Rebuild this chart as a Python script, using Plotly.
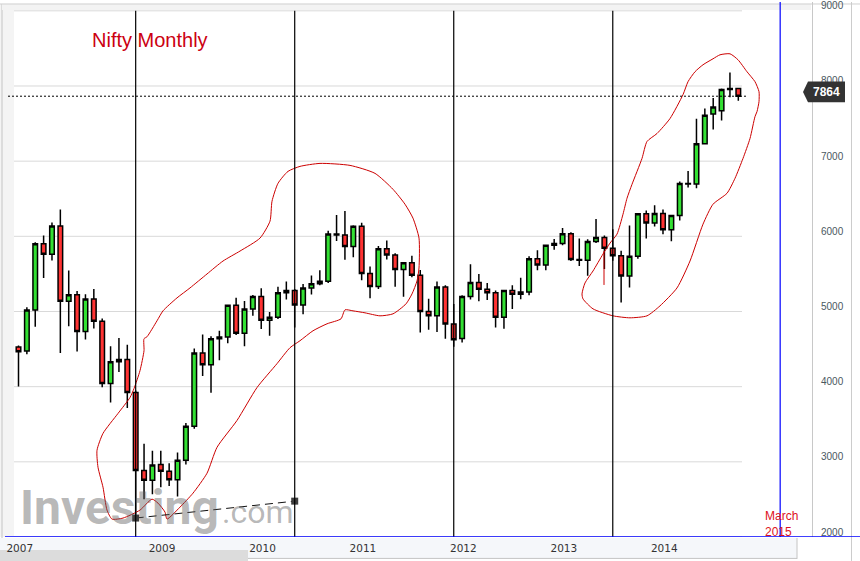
import plotly.graph_objects as go
import pandas as pd

# ---------------- data ----------------
months = pd.date_range("2007-08-01", periods=87, freq="MS").strftime("%b %Y").tolist()

opens = [4528, 4475, 5021, 5901, 5762, 6136, 5137, 5223, 4735, 5166, 4870, 4041, 4333, 4360,
         3921, 2885, 2755, 2963, 2874, 2763, 3021, 3474, 4449, 4291, 4636, 4662, 5084, 4712,
         5033, 5201, 4882, 4922, 5249, 5278, 5087, 5313, 5368, 5402, 6030, 6018, 5863, 6135,
         5506, 5333, 5834, 5750, 5560, 5647, 5482, 5001, 4943, 5327, 4832, 4640, 5199, 5385,
         5296, 5248, 4924, 5279, 5229, 5259, 5703, 5620, 5880, 5905, 6035, 5693, 5683, 5930,
         5986, 5842, 5742, 5471, 5735, 6299, 6176, 6304, 6089, 6277, 6704, 6696, 7230, 7627,
         7669, 7954, 7965]
highs = [4549, 5055, 5922, 6012, 6185, 6357, 5545, 5272, 5230, 5298, 4908, 4539, 4649, 4558,
         3950, 3240, 3147, 3147, 2981, 3123, 3517, 4509, 4693, 4669, 4743, 5087, 5182, 5138,
         5221, 5310, 4992, 5329, 5400, 5300, 5366, 5478, 5549, 6073, 6284, 6338, 6147, 6181,
         5599, 5872, 5944, 5775, 5657, 5740, 5551, 5169, 5399, 5350, 5099, 5217, 5630, 5499,
         5379, 5279, 5286, 5348, 5449, 5735, 5815, 5885, 5965, 6111, 6053, 5971, 5962, 6230,
         6011, 6093, 5808, 6143, 6309, 6342, 6415, 6358, 6282, 6730, 6870, 7563, 7700, 7841,
         7968, 8180, 7975]
lows = [4002, 4432, 4798, 5447, 5677, 4448, 4803, 4468, 4628, 4774, 3991, 3790, 4194, 3715,
        2252, 2502, 2570, 2661, 2678, 2539, 2966, 3440, 4143, 3919, 4353, 4576, 4687, 4539,
        4944, 4766, 4676, 4900, 5160, 4786, 4962, 5225, 5348, 5380, 5937, 5690, 5721, 5416,
        5177, 5300, 5693, 5328, 5195, 5454, 4720, 4758, 4728, 4639, 4531, 4588, 5160, 5135,
        5154, 4788, 4770, 5032, 5164, 5215, 5548, 5549, 5823, 5880, 5671, 5604, 5477, 5910,
        5566, 5676, 5119, 5318, 5701, 5972, 6130, 6027, 5933, 6212, 6650, 6638, 7225, 7422,
        7540, 7850, 7805]
closes = [4464, 5021, 5901, 5762, 6139, 5137, 5224, 4735, 5166, 4870, 4041, 4333, 4360, 3921,
          2885, 2755, 2959, 2874, 2763, 3021, 3474, 4449, 4291, 4636, 4662, 5084, 4712, 5033,
          5201, 4882, 4922, 5249, 5278, 5087, 5313, 5368, 5402, 6030, 6018, 5863, 6135, 5506,
          5333, 5834, 5750, 5560, 5647, 5482, 5001, 4943, 5327, 4832, 4624, 5199, 5385, 5296,
          5248, 4924, 5279, 5229, 5259, 5703, 5620, 5880, 5905, 6035, 5693, 5683, 5930, 5986,
          5842, 5742, 5471, 5735, 6299, 6176, 6304, 6089, 6277, 6704, 6696, 7230, 7611, 7721,
          7954, 7965, 7864]

year_labels = ["2007", "2009", "2010", "2011", "2012", "2013", "2014"]
price_ticks = [2000, 3000, 4000, 5000, 6000, 7000, 8000, 9000]
marked_months = ["Oct 2008", "May 2010", "Dec 2011", "Jul 2013"]
target_month = "Mar 2015"
target_text = "March<br>2015"
trend_months = ["Oct 2008", "May 2010"]
trend_values = [2252, 2477]
title_text = "Nifty Monthly"
last_price = closes[-1]

# ---------------- geometry ----------------
W, H = 860, 561
L, R, T, B = 14, 48, 0, 24
PW, PH = W - L - R, H - T - B
PPM = 8.37            # pixels per month
X0PX = 18.5           # pixel of first candle
PPV = 0.07545         # pixels per index point
xr = [(L - X0PX) / PPM, (L + PW - X0PX) / PPM]
yr = [2000, 2000 + PH / PPV]

idx = list(range(len(months)))
start = pd.Period("2007-08", "M")


def mi(label):
    return (pd.Period(pd.to_datetime(label, format="%b %Y"), "M") - start).n


def dx(p):
    return (p - X0PX) / PPM


def dy(p):
    return yr[0] + (T + PH - p) / PPV


def px(p):
    return (p - L) / PW


def py(p):
    return 1 - (p - T) / PH


# year tick positions: first candle of each labelled year
year_pos = [next(i for i, m in enumerate(months) if m.endswith(y)) + 0.15 for y in year_labels]

# hand-drawn outlines (screen pixels of the reference drawing)
ellipse_a = [(300, 165), (320, 162), (350, 164), (375, 172), (393, 188), (405, 203), (413, 217),
             (419, 237), (419, 267), (417, 280), (412, 293), (406, 303), (393, 313), (380, 315),
             (365, 312), (353, 310), (345, 309), (341, 318), (327, 323), (313, 330), (300, 340),
             (290, 347), (277, 363), (257, 387), (237, 420), (217, 447), (207, 473), (193, 493),
             (180, 507), (167, 519), (165, 512), (158, 503), (152, 499), (140, 510), (123, 518),
             (112, 519), (107, 510), (103, 487), (98, 467), (97, 450), (103, 433), (118, 413),
             (130, 397), (134, 388), (140, 370), (144, 350), (144, 338), (147, 336), (157, 320),
             (163, 310), (177, 297), (190, 287), (207, 273), (223, 260), (240, 250), (260, 237),
             (270, 220), (272, 200), (278, 182), (288, 170), (300, 165)]
ellipse_b = [(730, 52), (738, 58), (747, 70), (755, 80), (759, 90), (759, 100), (757, 110),
             (755, 115), (750, 137), (743, 157), (735, 177), (727, 192), (713, 203), (703, 223),
             (690, 260), (677, 287), (660, 305), (647, 315), (630, 317), (613, 315), (593, 308),
             (583, 298), (582, 293), (585, 282), (593, 270), (603, 253), (610, 242), (617, 233),
             (623, 213), (627, 197), (632, 183), (642, 157), (647, 140), (657, 132), (670, 117),
             (683, 93), (688, 80), (695, 70), (703, 63), (713, 57), (720, 53), (730, 52)]
tail_b = [(604, 250), (604, 284)]

fig = go.Figure()

fig.add_trace(go.Candlestick(
    x=idx, open=opens, high=highs, low=lows, close=closes,
    increasing=dict(fillcolor="#33e033", line=dict(color="#000000", width=1.5)),
    decreasing=dict(fillcolor="#ff3333", line=dict(color="#000000", width=1.5)),
    whiskerwidth=0, hoverinfo="skip", showlegend=False,
))

for pts in (ellipse_a, ellipse_b, tail_b):
    fig.add_trace(go.Scatter(
        x=[dx(p[0]) for p in pts], y=[dy(p[1]) for p in pts], mode="lines",
        line=dict(color="#cc0000", width=1, shape="spline", smoothing=0.6),
        hoverinfo="skip", showlegend=False))

fig.add_trace(go.Scatter(
    x=[mi(m) for m in trend_months], y=trend_values, mode="lines+markers",
    line=dict(color="#111111", width=1, dash="8px,5px"),
    marker=dict(symbol="square", size=7, color="#3c3c3c"),
    hoverinfo="skip", showlegend=False))

shapes = []
# frame decorations
shapes.append(dict(type="rect", xref="paper", yref="paper", x0=px(0), x1=px(L), y0=py(2), y1=py(537),
                   fillcolor="#f4f4f4", line=dict(width=0), layer="below"))
shapes.append(dict(type="line", xref="paper", yref="paper", x0=px(2), x1=px(2), y0=py(2), y1=py(561),
                   line=dict(color="#c4c4c4", width=1), layer="below"))
shapes.append(dict(type="rect", xref="paper", yref="paper", x0=px(2), x1=px(811), y0=py(2), y1=py(8),
                   fillcolor="#f3f3f3", line=dict(width=0), layer="below"))
shapes.append(dict(type="line", xref="paper", yref="paper", x0=px(0), x1=px(860), y0=py(2), y1=py(2),
                   line=dict(color="#cfcfcf", width=1), layer="below"))
shapes.append(dict(type="line", xref="paper", yref="paper", x0=px(851.5), x1=px(851.5), y0=py(0), y1=py(561),
                   line=dict(color="#cccccc", width=1), layer="below"))
shapes.append(dict(type="rect", xref="paper", yref="paper", x0=px(0), x1=px(797), y0=py(538), y1=py(558),
                   fillcolor="#f5f7fa", line=dict(width=0), layer="below"))
shapes.append(dict(type="line", xref="paper", yref="paper", x0=px(0), x1=px(797), y0=py(558.5), y1=py(558.5),
                   line=dict(color="#c4c4c4", width=1), layer="below"))
shapes.append(dict(type="line", xref="paper", yref="paper", x0=px(797), x1=px(797), y0=py(538), y1=py(559),
                   line=dict(color="#c4c4c4", width=1), layer="below"))
shapes.append(dict(type="rect", xref="paper", yref="paper", x0=px(0), x1=px(248), y0=py(550), y1=py(561),
                   fillcolor="#dcdcdc", line=dict(width=0), layer="below"))
# gridlines
for v in price_ticks:
    shapes.append(dict(type="line", xref="paper", yref="y", x0=0, x1=px(742), y0=v, y1=v,
                       line=dict(color="#d9d9d9", width=1), layer="below"))
# marked vertical lines
for m in marked_months:
    shapes.append(dict(type="line", xref="x", yref="y", x0=mi(m), x1=mi(m), y0=yr[0], y1=price_ticks[-1],
                       line=dict(color="#000000", width=1.2), layer="above"))
# target (blue) line
shapes.append(dict(type="line", xref="x", yref="y", x0=mi(target_month), x1=mi(target_month),
                   y0=yr[0], y1=yr[1], line=dict(color="#0000ff", width=1.2), layer="above"))
shapes.append(dict(type="line", xref="paper", yref="y", x0=px(5), x1=px(860), y0=yr[0], y1=yr[0],
                   line=dict(color="#0000ff", width=1.5), layer="above"))
# current price dotted line
shapes.append(dict(type="line", xref="paper", yref="y", x0=px(8), x1=px(746), y0=last_price, y1=last_price,
                   line=dict(color="#000000", width=1, dash="2px,2px"), layer="above"))
# price tag
shapes.append(dict(type="path", xref="paper", yref="y", xsizemode="pixel", ysizemode="pixel",
                   xanchor=1, yanchor=last_price,
                   path="M -9,4.2 L -4,14.6 L 33,14.6 L 33,-6.1 L -4,-6.1 Z",
                   fillcolor="#333333", line=dict(width=0), layer="above"))

annotations = [
    dict(text=title_text, xref="paper", yref="paper", x=px(90), y=py(38.4), xanchor="left",
         yanchor="middle", showarrow=False, font=dict(family="Liberation Sans, Arial", size=20, color="#cc0011")),
    dict(text=target_text, xref="x", yref="y", x=mi(target_month) + 0.2, y=yr[0], xanchor="center",
         yanchor="bottom", yshift=-3, align="left", showarrow=False, borderpad=0,
         font=dict(family="Liberation Sans, Arial", size=12, color="#dd1122")),
    dict(text=str(last_price), xref="paper", yref="y", x=1, xshift=14.5, y=last_price, yshift=4.2,
         xanchor="center", yanchor="middle", showarrow=False,
         font=dict(family="Liberation Sans, Arial", size=12, color="#ffffff", weight="bold")),
    dict(text="Investing", xref="paper", yref="paper", x=px(119), y=py(507), xanchor="center",
         yanchor="middle", showarrow=False,
         font=dict(family="Roboto", size=48, color="rgba(95,95,95,0.45)", weight="bold")),
    dict(text=".com", xref="paper", yref="paper", x=px(258), y=py(512), xanchor="center",
         yanchor="middle", showarrow=False,
         font=dict(family="Roboto", size=32, color="rgba(95,95,95,0.45)")),
]

fig.update_layout(
    width=W, height=H, margin=dict(l=L, r=R, t=T, b=B, pad=0),
    paper_bgcolor="#ffffff", plot_bgcolor="#ffffff", showlegend=False,
    shapes=shapes, annotations=annotations, hovermode=False, boxgap=0.22,
    xaxis=dict(range=xr, showgrid=False, zeroline=False, showline=False, ticks="",
               tickvals=year_pos, ticktext=year_labels, rangeslider=dict(visible=False),
               tickfont=dict(family="DejaVu Sans", size=10.5, color="#333333"), ticklabelstandoff=3),
    yaxis=dict(range=yr, side="right", showgrid=False, zeroline=False, showline=True,
               linecolor="#c8c8c8", linewidth=1, ticks="", tickvals=price_ticks,
               ticktext=[str(v) for v in price_ticks], ticklabelshift=-5, ticklabelstandoff=6,
               ticklabeloverflow="allow",
               tickfont=dict(family="Liberation Sans, Arial", size=10, color="#4a5860")),
)

fig.write_html("out.html", config={"displayModeBar": False},
               post_script="document.body.style.margin='0px';document.body.style.overflow='hidden';")
